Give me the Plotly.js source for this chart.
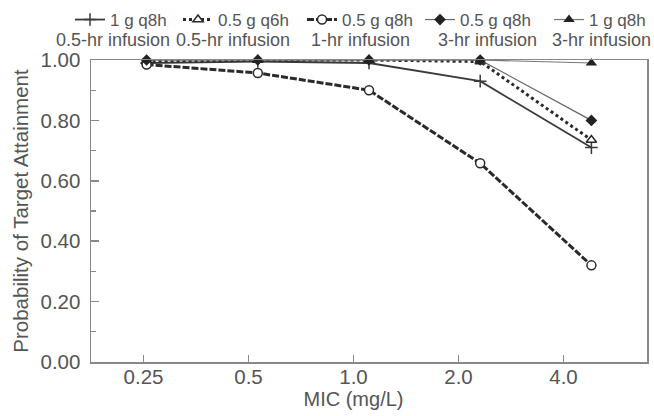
<!DOCTYPE html>
<html>
<head>
<meta charset="utf-8">
<script src="https://cdn.plot.ly/plotly-3.0.1.min.js"></script>
<style>html,body{margin:0;padding:0;background:#fff;}#chart{width:654px;height:416px;}</style>
</head>
<body>
<div id="chart"></div>
<script>
var micLabels = ['0.25', '0.5', '1.0', '2.0', '4.0'];
var regimenNames = ['1 g q8h', '0.5 g q6h', '0.5 g q8h', '0.5 g q8h', '1 g q8h'];
var infusionNames = ['0.5-hr infusion', '0.5-hr infusion', '1-hr infusion', '3-hr infusion', '3-hr infusion'];
var pta_1g_q8h_05hr   = [0.99, 0.995, 0.99, 0.93, 0.71];
var pta_05g_q6h_05hr  = [0.995, 1.00, 1.00, 0.995, 0.735];
var pta_05g_q8h_1hr   = [0.985, 0.957, 0.90, 0.658, 0.32];
var pta_05g_q8h_3hr   = [1.00, 1.00, 1.00, 1.00, 0.80];
var pta_1g_q8h_3hr    = [1.00, 1.00, 1.00, 1.00, 0.99];

var xIdx = micLabels.map(function(_, i){ return i; });
var series = [pta_1g_q8h_05hr, pta_05g_q6h_05hr, pta_05g_q8h_1hr, pta_05g_q8h_3hr, pta_1g_q8h_3hr];
var styles = [
  {line:{color:'#3a3a3a', width:1.8, dash:'solid'}, marker:{symbol:'cross-thin-open', size:9, color:'#3a3a3a', line:{color:'#3a3a3a', width:1.5}}},
  {line:{color:'#2a2a2a', width:3, dash:'3px,3px'}, marker:{symbol:'triangle-up', size:9, color:'#ffffff', line:{color:'#2a2a2a', width:1.5}}},
  {line:{color:'#2a2a2a', width:3, dash:'7px,2px'}, marker:{symbol:'circle', size:9, color:'#ffffff', line:{color:'#2a2a2a', width:1.5}}},
  {line:{color:'#666666', width:1.2, dash:'solid'}, marker:{symbol:'diamond', size:9, color:'#222222', line:{width:0}}},
  {line:{color:'#777777', width:1.2, dash:'solid'}, marker:{symbol:'triangle-up', size:10, color:'#222222', line:{width:0}}}
];
var legendIds = ['legend', 'legend2', 'legend3', 'legend4', 'legend5'];
var legendTextX = [70, 178, 302, 420, 549];
var secondLineX = [113, 233, 360, 487, 601];

var traces = series.map(function(s, i){
  return {
    x: xIdx, y: s, type: 'scatter', mode: 'lines+markers',
    name: regimenNames[i], legend: legendIds[i],
    line: styles[i].line, marker: styles[i].marker, cliponaxis: false
  };
});
// empty helper trace so the tick-label axis is drawn
traces.push({x: [], y: [], xaxis: 'x2', yaxis: 'y', type: 'scatter', mode: 'markers', showlegend: false, hoverinfo: 'skip'});

var fontFam = 'Liberation Sans, Arial, sans-serif';
var layout = {
  width: 654, height: 416,
  margin: {l: 91, r: 7, t: 60, b: 54},
  paper_bgcolor: '#ffffff', plot_bgcolor: 'rgba(0,0,0,0)',
  font: {family: fontFam, color: '#555555', size: 17},
  showlegend: true,
  xaxis: {
    type: 'linear', range: [-0.5, 4.5], domain: [0, 1],
    showticklabels: false, ticks: '', showgrid: false, zeroline: false,
    showline: true, linecolor: '#888888', linewidth: 1.5, mirror: true
  },
  xaxis2: {
    type: 'linear', range: [-0.5, 4.5], domain: [0, 0.9442], anchor: 'y',
    tickvals: xIdx, ticktext: micLabels,
    ticks: 'inside', ticklen: 7, tickwidth: 1.5, tickcolor: '#888888',
    tickfont: {size: 20.5, color: '#555555'},
    showgrid: false, zeroline: false, showline: false,
    title: {text: 'MIC (mg/L)', font: {size: 20, color: '#555555'}, standoff: 2}
  },
  yaxis: {
    range: [0, 1.0], dtick: 0.2, tickformat: '.2f',
    ticks: 'inside', ticklen: 8, tickwidth: 1.5, tickcolor: '#888888',
    minor: {dtick: 0.1, ticks: 'inside', ticklen: 5, tickwidth: 1.2, tickcolor: '#888888'},
    tickfont: {size: 20.5, color: '#555555'},
    ticklabelstandoff: 5,
    showgrid: false, zeroline: false,
    showline: true, linecolor: '#888888', linewidth: 1.5, mirror: true,
    title: {text: 'Probability of Target Attainment', font: {size: 20.5, color: '#555555'}, standoff: 6}
  },
  annotations: []
};

legendIds.forEach(function(id, i){
  layout[id] = {
    xref: 'container', yref: 'container',
    x: legendTextX[i] / 654, y: 1 - 20 / 416,
    xanchor: 'left', yanchor: 'middle',
    orientation: 'h', bgcolor: 'rgba(0,0,0,0)', borderwidth: 0,
    font: {size: 17, color: '#555555'}
  };
  layout.annotations.push({
    xref: 'paper', yref: 'paper',
    x: (secondLineX[i] - 91) / 556, y: (362 - 40) / 302,
    xanchor: 'center', yanchor: 'middle', showarrow: false,
    text: infusionNames[i], font: {size: 18, color: '#555555'}
  });
});

Plotly.newPlot('chart', traces, layout, {displayModeBar: false, staticPlot: true});
</script>
</body>
</html>
